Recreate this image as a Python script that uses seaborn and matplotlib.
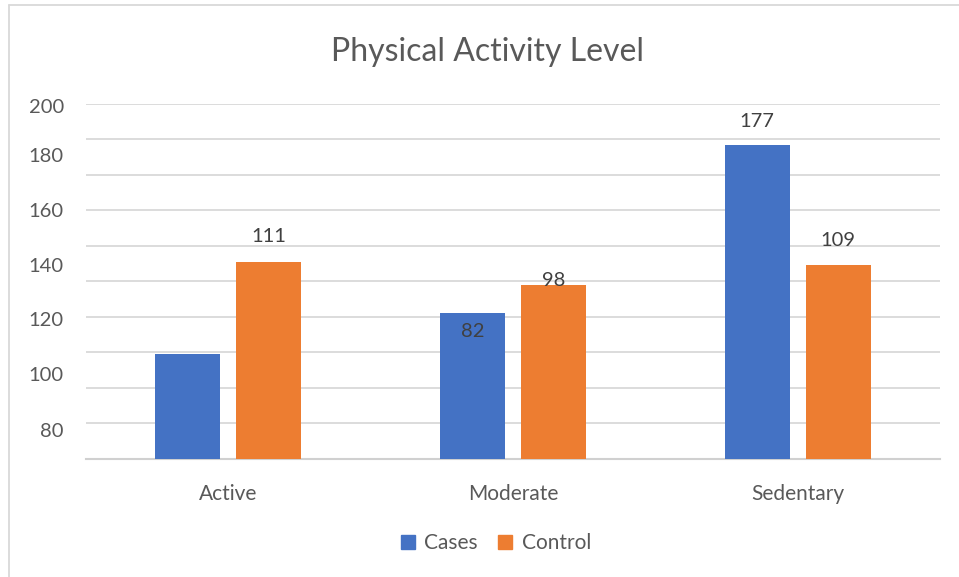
import matplotlib
matplotlib.use("Agg")
import matplotlib.pyplot as plt
import matplotlib.lines as mlines
import numpy as np
import pandas as pd
import seaborn as sns

# Data
categories = ["Active", "Moderate", "Sedentary"]
cases = [59, 82, 177]
control = [111, 98, 109]
groups = ["Cases", "Control"]

# Y-axis labels as printed beside the axis, with the value position each sits at
ytick_labels = ["200", "180", "160", "140", "120", "100", "80"]
ytick_positions = [199, 171, 140, 109, 78.5, 47.5, 16]

df = pd.DataFrame({
    "level": categories * 2,
    "group": [groups[0]] * 3 + [groups[1]] * 3,
    "count": cases + control,
})

sns.set_theme(style="white")
plt.rcParams["font.family"] = ["Lato", "DejaVu Sans"]

text_gray = "#595959"
label_gray = "#404040"
grid_gray = "#d9d9d9"
palette = {"Cases": "#4472c4", "Control": "#ed7d31"}

fig = plt.figure(figsize=(9.59, 5.77), dpi=100)
ax = fig.add_axes([86 / 959, 1 - 458.5 / 577, (940 - 86) / 959, (458.5 - 104) / 577])

sns.barplot(data=df, x="level", y="count", hue="group", order=categories,
            hue_order=groups, palette=palette, width=0.569, gap=0.2,
            saturation=1, ax=ax, legend=False, zorder=3, linewidth=0)

ax.set_ylim(0, 200)
ax.set_xlim(-0.5, 2.5)

# Horizontal gridlines every 20 units
for v in range(20, 201, 20):
    ax.axhline(v, color=grid_gray, lw=1.3, zorder=1)

ax.set_yticks(ytick_positions)
ax.set_yticklabels(ytick_labels)
ax.tick_params(axis="y", length=0, pad=16, labelsize=14.5, labelcolor=text_gray)
ax.tick_params(axis="x", length=0, pad=18, labelsize=15, labelcolor=text_gray)
ax.set_xlabel("")
ax.set_ylabel("")

for side in ["top", "right", "left"]:
    ax.spines[side].set_visible(False)
ax.spines["bottom"].set_color("#d0d0d0")
ax.spines["bottom"].set_linewidth(1.5)

# Value labels (vertical offsets in points from the bar top)
label_offsets = {("Cases", 0): None, ("Cases", 1): -13, ("Cases", 2): 17,
                 ("Control", 0): 18, ("Control", 1): 3, ("Control", 2): 18}
for gi, container in enumerate(ax.containers):
    g = groups[gi]
    vals = cases if g == "Cases" else control
    for ci, bar in enumerate(container):
        off = label_offsets[(g, ci)]
        if off is None:
            continue
        ax.annotate(str(vals[ci]),
                    (bar.get_x() + bar.get_width() / 2, bar.get_height()),
                    xytext=(0, off), textcoords="offset points",
                    ha="center", va="center", fontsize=14.5, color=label_gray,
                    zorder=5)

fig.text(487 / 959, 1 - 52 / 577, "Physical Activity Level", ha="center",
         va="center", fontsize=23, color=text_gray)

handles = [mlines.Line2D([], [], marker="s", ls="", markersize=10,
                         color=palette[g]) for g in groups]
fig.legend(handles, groups, loc="center", bbox_to_anchor=(494 / 959, 1 - 543 / 577),
           ncol=2, frameon=False, fontsize=15, labelcolor=text_gray,
           handletextpad=0.3, columnspacing=0.8, handlelength=1.0)

# Chart frame (top and left edges)
fig.add_artist(mlines.Line2D([9 / 959, 9 / 959], [0, 1 - 5 / 577],
                             transform=fig.transFigure, color=grid_gray, lw=1.3))
fig.add_artist(mlines.Line2D([9 / 959, 1], [1 - 5 / 577, 1 - 5 / 577],
                             transform=fig.transFigure, color=grid_gray, lw=1.3))

fig.savefig("out.png", dpi=100, facecolor="white")
